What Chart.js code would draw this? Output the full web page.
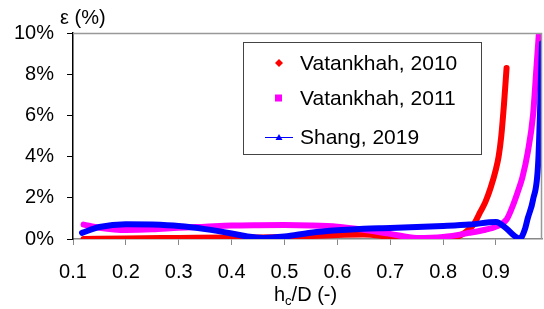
<!DOCTYPE html>
<html>
<head>
<meta charset="utf-8">
<script src="https://cdn.jsdelivr.net/npm/chart.js@4.4.1/dist/chart.umd.min.js"></script>
<style>
  html, body { margin: 0; padding: 0; background: #fff; }
  #wrap { width: 544px; height: 309px; }
</style>
</head>
<body>
<div id="wrap"><canvas id="chart" width="544" height="309"></canvas></div>
<script>
// data
var labels = ['Vatankhah, 2010', 'Vatankhah, 2011', 'Shang, 2019'];
var colors = ['#ff0000', '#ff00ff', '#0000ff'];

var x2010 = [0.12, 0.2, 0.3, 0.4, 0.5, 0.6, 0.65, 0.7, 0.75, 0.8, 0.83, 0.85, 0.86, 0.87, 0.88, 0.89, 0.9, 0.905, 0.91, 0.915, 0.92];
var y2010 = [0.0, 0.03, 0.05, 0.07, 0.1, 0.2, 0.22, 0.1, 0.0, 0.05, 0.15, 0.5, 0.8, 1.3, 1.8, 2.5, 3.4, 4.0, 5.0, 6.5, 8.3];

var x2011 = [0.12, 0.15, 0.2, 0.25, 0.3, 0.35, 0.4, 0.45, 0.5, 0.55, 0.6, 0.65, 0.7, 0.75, 0.8, 0.85, 0.88, 0.9, 0.92, 0.93, 0.94, 0.95, 0.96, 0.97, 0.977, 0.982];
var y2011 = [0.7, 0.55, 0.44, 0.47, 0.55, 0.6, 0.65, 0.67, 0.68, 0.66, 0.6, 0.45, 0.25, 0.05, 0.1, 0.3, 0.45, 0.6, 0.95, 1.5, 2.2, 3.0, 4.2, 6.0, 8.5, 10.3];

var x2019 = [0.117, 0.15, 0.2, 0.25, 0.3, 0.35, 0.4, 0.43, 0.46, 0.5, 0.55, 0.6, 0.65, 0.7, 0.8, 0.85, 0.9, 0.92, 0.935, 0.945, 0.955, 0.96, 0.97, 0.98, 0.987];
var y2019 = [0.3, 0.58, 0.72, 0.7, 0.63, 0.48, 0.27, 0.12, 0.05, 0.12, 0.3, 0.42, 0.5, 0.53, 0.63, 0.7, 0.83, 0.5, 0.15, 0.02, 0.5, 1.0, 1.9, 3.8, 9.5];

var xTicks = [0.1, 0.2, 0.3, 0.4, 0.5, 0.6, 0.7, 0.8, 0.9];
var yTicks = [0, 2, 4, 6, 8, 10];

function pts(xs, ys) {
  return xs.map(function (x, i) { return {x: x, y: ys[i]}; });
}

var FONT = '"Liberation Sans", Arial, sans-serif';

// legend box, axis titles and plot frame
var extras = {
  id: 'extras',
  afterDatasetsDraw: function (chart) {
    var c = chart.ctx, a = chart.chartArea;
    c.save();
    // frame top / right
    c.strokeStyle = '#999';
    c.lineWidth = 1.5;
    c.beginPath();
    c.moveTo(a.left, a.top + 0.5);
    c.lineTo(a.right - 0.5, a.top + 0.5);
    c.lineTo(a.right - 0.5, a.bottom);
    c.stroke();

    // legend
    c.fillStyle = '#fff';
    c.fillRect(243, 42, 238, 112);
    c.strokeStyle = '#444';
    c.lineWidth = 1;
    c.strokeRect(243.5, 42.5, 238, 112);
    c.font = '21px ' + FONT;
    c.textBaseline = 'middle';
    var rows = [63, 98, 137];
    labels.forEach(function (lab, i) {
      var y = rows[i];
      c.fillStyle = colors[i];
      if (i === 0) {
        c.beginPath();
        c.moveTo(279, y - 4); c.lineTo(283, y); c.lineTo(279, y + 4); c.lineTo(275, y);
        c.closePath(); c.fill();
      } else if (i === 1) {
        c.fillRect(275, y - 3.5, 7, 7);
      } else {
        c.strokeStyle = colors[i];
        c.lineWidth = 1;
        c.beginPath(); c.moveTo(265, y + 0.5); c.lineTo(293, y + 0.5); c.stroke();
        c.beginPath();
        c.moveTo(279, y - 3); c.lineTo(282.5, y + 3); c.lineTo(275.5, y + 3);
        c.closePath(); c.fill();
      }
      c.fillStyle = '#000';
      c.textAlign = 'left';
      c.fillText(lab, 300, y + 1);
    });

    // y title
    c.textBaseline = 'alphabetic';
    c.fillStyle = '#000';
    c.font = '20px ' + FONT;
    c.fillText('\u03b5 (%)', 60, 24);

    // x title with subscript
    var x = 274, base = 301;
    c.fillText('h', x, base);
    x += c.measureText('h').width;
    c.font = '13px ' + FONT;
    c.fillText('c', x, base + 4);
    x += c.measureText('c').width;
    c.font = '20px ' + FONT;
    c.fillText('/D (-)', x, base);
    c.restore();
  }
};

var ds = [
  {label: labels[0], data: pts(x2010, y2010), order: 3},
  {label: labels[1], data: pts(x2011, y2011), order: 2},
  {label: labels[2], data: pts(x2019, y2019), order: 1}
].map(function (d, i) {
  d.borderColor = colors[i];
  d.backgroundColor = colors[i];
  d.borderWidth = 6;
  d.pointRadius = 0;
  d.borderCapStyle = 'round';
  d.borderJoinStyle = 'round';
  d.cubicInterpolationMode = 'monotone';
  d.fill = false;
  return d;
});

var ctx = document.getElementById('chart').getContext('2d');
var chart = new Chart(ctx, {
  type: 'line',
  data: {datasets: ds},
  options: {
    responsive: false,
    animation: false,
    layout: {padding: {top: 33, right: 2, left: 0, bottom: 0}},
    plugins: {legend: {display: false}, tooltip: {enabled: false}},
    scales: {
      x: {
        type: 'linear',
        min: 0.1, max: 0.987,
        afterBuildTicks: function (axis) { axis.ticks = xTicks.map(function (v) { return {value: v}; }); },
        afterFit: function (axis) { axis.height = 70; },
        ticks: {
          color: '#000', font: {family: FONT, size: 20}, padding: 15,
          maxRotation: 0, autoSkip: false,
          callback: function (v) { return v.toFixed(1); }
        },
        grid: {drawOnChartArea: false, drawTicks: true, tickLength: 6, color: '#888'},
        border: {display: true, color: '#888', width: 1.5}
      },
      y: {
        min: 0, max: 10,
        afterBuildTicks: function (axis) { axis.ticks = yTicks.map(function (v) { return {value: v}; }); },
        afterFit: function (axis) { axis.width = 73; },
        ticks: {
          color: '#000', font: {family: FONT, size: 20}, padding: 13,
          callback: function (v) { return v + '%'; }
        },
        grid: {drawOnChartArea: false, drawTicks: true, tickLength: 6, color: '#000'},
        border: {display: true, color: '#000', width: 1.5}
      }
    }
  },
  plugins: [extras]
});
</script>
</body>
</html>
